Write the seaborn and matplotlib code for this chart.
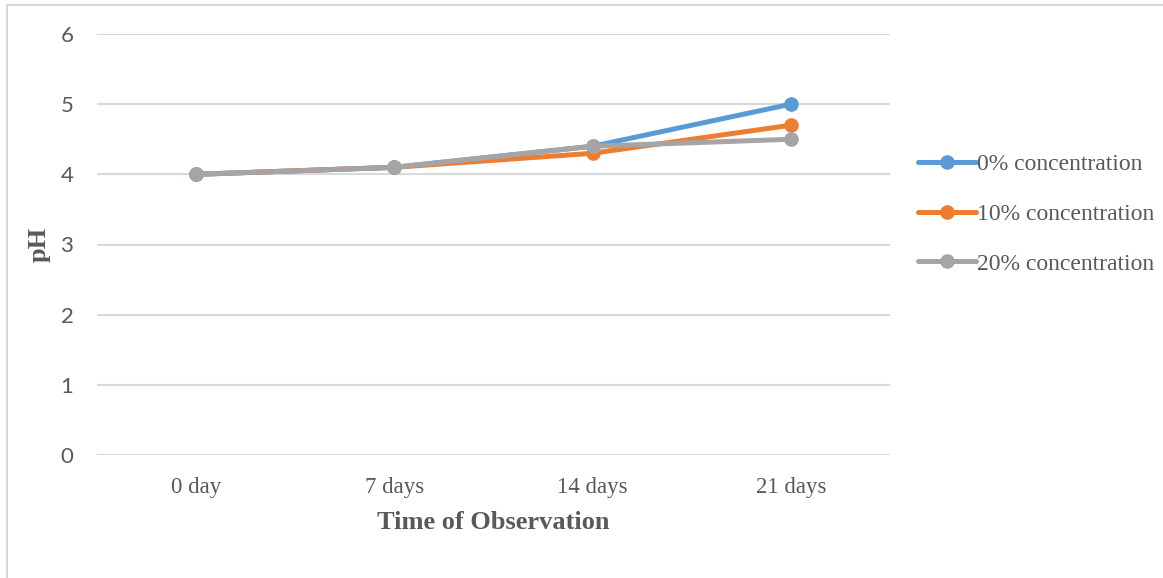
import matplotlib
matplotlib.use("Agg")
import matplotlib.pyplot as plt
import seaborn as sns
import pandas as pd
from matplotlib.patches import Rectangle

# data
days = ["0 day", "7 days", "14 days", "21 days"]
series_names = ["0% concentration", "10% concentration", "20% concentration"]
ph_0 = [4.0, 4.1, 4.4, 5.0]
ph_10 = [4.0, 4.1, 4.3, 4.7]
ph_20 = [4.0, 4.1, 4.4, 4.5]
y_ticks = [0, 1, 2, 3, 4, 5, 6]

colors = ["#5b9bd5", "#ed7d31", "#a5a5a5"]

df = pd.DataFrame({
    "day": days * 3,
    "pH": ph_0 + ph_10 + ph_20,
    "series": [s for s in series_names for _ in days],
})

sns.set_style("white")
fig = plt.figure(figsize=(11.63, 5.78), dpi=100)
ax = fig.add_axes([97 / 1163, 1 - 455 / 578, (890 - 97) / 1163, (455 - 34) / 578])

sns.lineplot(data=df, x="day", y="pH", hue="series", palette=colors,
             marker="o", markersize=10.5, markeredgewidth=0, linewidth=3.6,
             sort=False, ax=ax, legend=False)

ax.set_xlim(-0.5, 3.5)
ax.set_ylim(0, 6)
ax.set_yticks(y_ticks)
ax.set_yticklabels([str(t) for t in y_ticks], family="Lato", fontsize=16, color="#595959")
ax.set_xticks(range(len(days)))
ax.set_xticklabels(days, family="Liberation Serif", fontsize=16.5, color="#595959")
ax.tick_params(axis="x", length=0, pad=15.5)
ax.tick_params(axis="y", length=0, pad=17)
ax.yaxis.grid(True, color="#d9d9d9", linewidth=1.5)
ax.set_axisbelow(True)
for s in ax.spines.values():
    s.set_visible(False)

ax.set_xlabel("Time of Observation", family="Liberation Serif", fontsize=19,
              fontweight="bold", color="#595959", labelpad=10)
ax.set_ylabel("pH", family="Liberation Serif", fontsize=19,
              fontweight="bold", color="#595959", labelpad=7)

# legend built from the drawn lines
handles = ax.get_lines()[:3]
leg = fig.legend(handles, series_names, loc="center left",
                 bbox_to_anchor=(897 / 1163, 1 - 214 / 578), frameon=False,
                 prop={"family": "Liberation Serif", "size": 17},
                 handlelength=2.45, handletextpad=0.05, labelspacing=1.2,
                 labelcolor="#595959")

# chart outer border
fig.patches.append(Rectangle((7 / 1163, -0.1), 1.2, 1.1 - 5 / 578,
                             transform=fig.transFigure, fill=False,
                             edgecolor="#d9d9d9", linewidth=1.5))

fig.savefig("out.png", dpi=100)
